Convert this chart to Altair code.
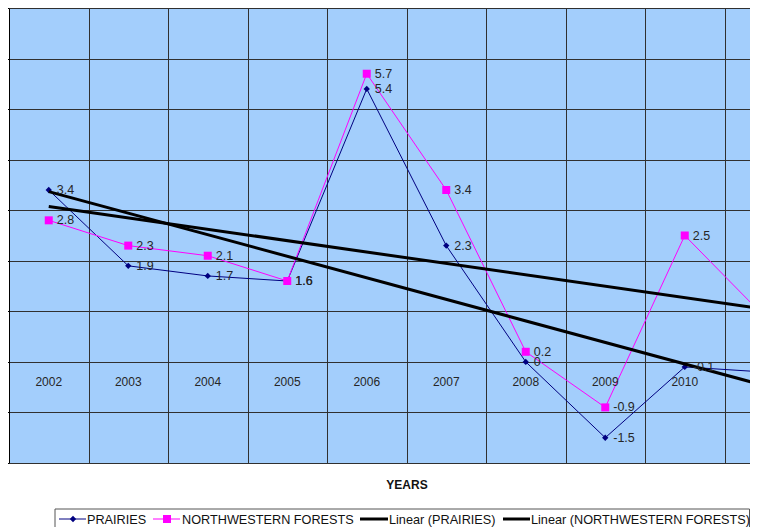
import altair as alt
import pandas as pd

years = [2002, 2003, 2004, 2005, 2006, 2007, 2008, 2009, 2010, 2011]
prairies = [3.4, 1.9, 1.7, 1.6, 5.4, 2.3, 0.0, -1.5, -0.1, -0.2]
nw_forests = [2.8, 2.3, 2.1, 1.6, 5.7, 3.4, 0.2, -0.9, 2.5, 0.9]
series_names = ["PRAIRIES", "NORTHWESTERN FORESTS"]
series_colors = ["#000080", "#FF00FF"]
series_shapes = ["diamond", "square"]
legend_labels = ["PRAIRIES", "NORTHWESTERN FORESTS", "Linear (PRAIRIES)",
                 "Linear (NORTHWESTERN FORESTS)"]
x_title = "YEARS"

rows = []
for name, vals in zip(series_names, [prairies, nw_forests]):
    for y, v in zip(years, vals):
        rows.append({"year": y, "value": v, "series": name, "label": f"{v:g}"})
df = pd.DataFrame(rows)
cat_df = pd.DataFrame({"year": years, "label": [str(y) for y in years]})

FONT = "Liberation Sans"
W, H = 741, 455
STEP = 79.5

xscale = alt.Scale(domain=[2001.5, 2001.5 + W / STEP], nice=False, zero=False)
yscale = alt.Scale(domain=[-2, 7], nice=False, zero=False)
x_axis = alt.Axis(values=[y + 0.5 for y in years[:-1]], labels=False, ticks=False,
                  domain=False, title=None, grid=True, gridColor="#303030",
                  gridWidth=1)
y_axis = alt.Axis(values=list(range(-2, 8)), labels=False, ticks=True, tickSize=4,
                  tickColor="#000000", domain=True, domainColor="#000000",
                  title=None, grid=True, gridColor="#303030", gridWidth=1)

X = alt.X("year:Q", scale=xscale, axis=x_axis)
Y = alt.Y("value:Q", scale=yscale, axis=y_axis)
color = alt.Color("series:N", scale=alt.Scale(domain=series_names, range=series_colors),
                  legend=None)

base = alt.Chart(df)

lines = base.mark_line(strokeWidth=1, clip=True).encode(x=X, y=Y, color=color,
                                                          detail="series:N")
points = base.mark_point(filled=True, opacity=1, clip=True).encode(
    x=X, y=Y, color=color,
    shape=alt.Shape("series:N", scale=alt.Scale(domain=series_names, range=series_shapes),
                    legend=None),
    size=alt.Size("series:N", scale=alt.Scale(domain=series_names, range=[40, 64]),
                  legend=None),
)
trend = base.transform_regression("year", "value", groupby=["series"]).mark_line(
    color="#000000", strokeWidth=3, clip=True
).encode(x=X, y=Y, detail="series:N")

labels = base.mark_text(align="left", baseline="middle", dx=8, fontSize=12.5, font=FONT,
                        color="#262626", clip=True).encode(x=X, y=Y, text="label:N")

cats = alt.Chart(cat_df).transform_calculate(zero="0").mark_text(
    align="center", baseline="middle", dy=20, fontSize=12, font=FONT,
    color="#262626", clip=True
).encode(x=X, y=alt.Y("zero:Q", scale=yscale, axis=y_axis), text="label:N")

title_txt = alt.Chart(pd.DataFrame({"t": [x_title]})).mark_text(
    align="center", baseline="middle", fontSize=12, fontWeight="bold", font=FONT,
    color="#111111"
).encode(x=alt.value(398), y=alt.value(477), text="t:N")

# manual legend
legend_layers = [
    alt.Chart(pd.DataFrame({"t": [0]})).mark_rect(fill="#FFFFFF", stroke="#555555",
                                                  strokeWidth=1).encode(
        x=alt.value(46), x2=alt.value(740.5), y=alt.value(501), y2=alt.value(530))
]
leg_items = [
    (50, 77, 64, 78, 1, "#000080", "diamond", 40),
    (144, 171, 158, 173, 1, "#FF00FF", "square", 64),
    (351, 379, None, 380, 3, "#000000", None, 0),
    (494, 521, None, 522, 3, "#000000", None, 0),
]
for lab, (x1, x2, xm, xt, sw, col, shp, sz) in zip(legend_labels, leg_items):
    one = pd.DataFrame({"t": [lab]})
    legend_layers.append(alt.Chart(one).mark_rule(color=col, strokeWidth=sw).encode(
        x=alt.value(x1), x2=alt.value(x2), y=alt.value(511)))
    if shp:
        legend_layers.append(alt.Chart(one).mark_point(
            filled=True, opacity=1, color=col, shape=shp, size=sz).encode(
            x=alt.value(xm), y=alt.value(511)))
    legend_layers.append(alt.Chart(one).mark_text(
        align="left", baseline="middle", fontSize=12.7, font=FONT, color="#111111").encode(
        x=alt.value(xt), y=alt.value(512), text="t:N"))

chart = alt.layer(lines, points, trend, labels, cats, title_txt, *legend_layers).properties(
    width=W, height=H,
    autosize=alt.AutoSizeParams(type="none"),
    padding={"left": 1, "top": 0, "right": 0, "bottom": 64},
    background="#FFFFFF",
).configure_view(fill="#A3CEFC", stroke="transparent")

chart.save("out.html", embed_options={"renderer": "svg", "actions": False})
